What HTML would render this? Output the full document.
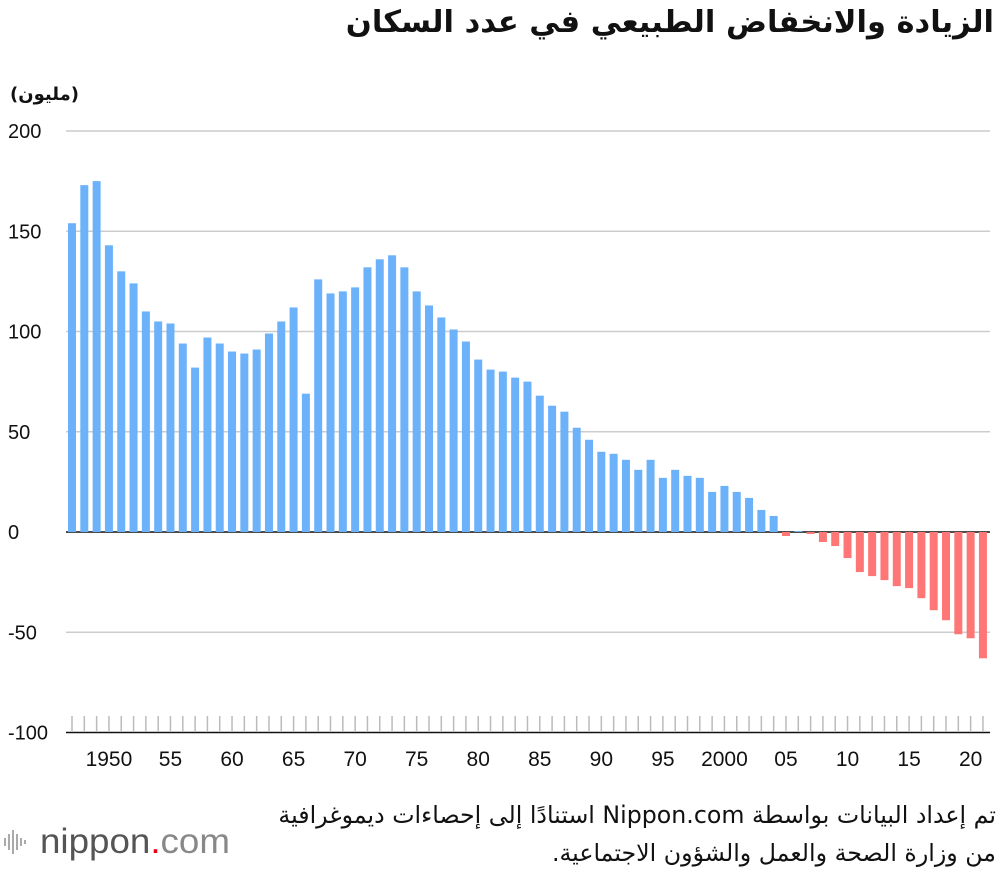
<!DOCTYPE html>
<html><head><meta charset="utf-8">
<style>
body{margin:0;background:#fff;width:1000px;height:870px;overflow:hidden;font-family:"Liberation Sans","DejaVu Sans",sans-serif;position:relative;}
svg{display:block;position:absolute;left:0;top:0}
.ar{position:absolute;direction:rtl;text-align:right;font-family:"DejaVu Sans",sans-serif;color:#111;white-space:nowrap}
</style></head>
<body>
<div class="ar" style="right:6px;top:5px;font-size:30.5px;font-weight:bold;">الزيادة والانخفاض الطبيعي في عدد السكان</div>
<div class="ar" style="left:10px;top:84px;font-size:18px;font-weight:bold;">(مليون)</div>
<div class="ar" style="right:4px;top:796px;font-size:23.7px;line-height:38px;">تم إعداد البيانات بواسطة Nippon.com استنادًا إلى إحصاءات ديموغرافية<br>من وزارة الصحة والعمل والشؤون الاجتماعية.</div>
<svg id="chart" width="1000" height="870" xmlns="http://www.w3.org/2000/svg">
<g id="grid"></g>
<g id="bars"></g>
<g id="xaxis"></g>
<g>
<rect x="4" y="838" width="2" height="8" fill="#aaa"/><rect x="8" y="834" width="2" height="16" fill="#aaa"/><rect x="12" y="830" width="2" height="24" fill="#aaa"/><rect x="16" y="834" width="2" height="16" fill="#aaa"/><rect x="20" y="838" width="2" height="8" fill="#aaa"/><rect x="24" y="840" width="2" height="4" fill="#aaa"/>
<text x="40" y="853" font-size="35" fill="#555" font-family="Liberation Sans, sans-serif" textLength="190" lengthAdjust="spacingAndGlyphs">nippon<tspan fill="#e60012">.</tspan><tspan fill="#888">com</tspan></text>
</g>
</svg>
<script>
const years=[];for(let y=1947;y<=2021;y++)years.push(y);
const values=[154,173,175,143,130,124,110,105,104,94,82,97,94,90,89,91,99,105,112,69,126,119,120,122,132,136,138,132,120,113,107,101,95,86,81,80,77,75,68,63,60,52,46,40,39,36,31,36,27,31,28,27,20,23,20,17,11,8,-2,0.5,-1,-5,-7,-13,-20,-22,-24,-27,-28,-33,-39,-44,-51,-53,-63];
const yTicks=[200,150,100,50,0,-50,-100];
const xLabelYears=[1950,1955,1960,1965,1970,1975,1980,1985,1990,1995,2000,2005,2010,2015,2020];
const xLabels=["1950","55","60","65","70","75","80","85","90","95","2000","05","10","15","20"];
const NS="http://www.w3.org/2000/svg";
function yS(v){return 532-v*2.005;}
function xS(yr){return 72+(yr-1947)*12.31;}
function mk(tag,attrs,parent){const e=document.createElementNS(NS,tag);for(const k in attrs)e.setAttribute(k,attrs[k]);parent.appendChild(e);return e;}
const grid=document.getElementById('grid'),bars=document.getElementById('bars'),xa=document.getElementById('xaxis');
yTicks.forEach(t=>{
  const l=mk('line',{x1:66,x2:990,y1:yS(t),y2:yS(t),stroke:t===0||t===-100?'#111':'#ccc','stroke-width':t===0||t===-100?1.6:1.4},grid);
  
  
  const tx=mk('text',{x:8,y:yS(t)+7,'font-size':20,fill:'#111'},grid);
  tx.textContent=String(t);
  
  
});
years.forEach((yr,i)=>{
  const v=values[i];const x=xS(yr);
  const top=Math.min(yS(v),yS(0)),h=Math.abs(yS(v)-yS(0));
  const r=mk('rect',{x:x-4,y:top,width:8,height:Math.max(h,0.5),fill:v>=0?'#6bb2fb':'#ff7676'},bars);
  
  
  const tk=mk('line',{x1:x,x2:x,y1:716,y2:731,stroke:'#bbb','stroke-width':1.5},xa);
  
  
});
xLabelYears.forEach((yr,i)=>{
  const t=mk('text',{x:xS(yr),y:766,'text-anchor':'middle','font-size':21,fill:'#111'},xa);
  t.textContent=xLabels[i];
  
  
});
</script>
</body></html>
